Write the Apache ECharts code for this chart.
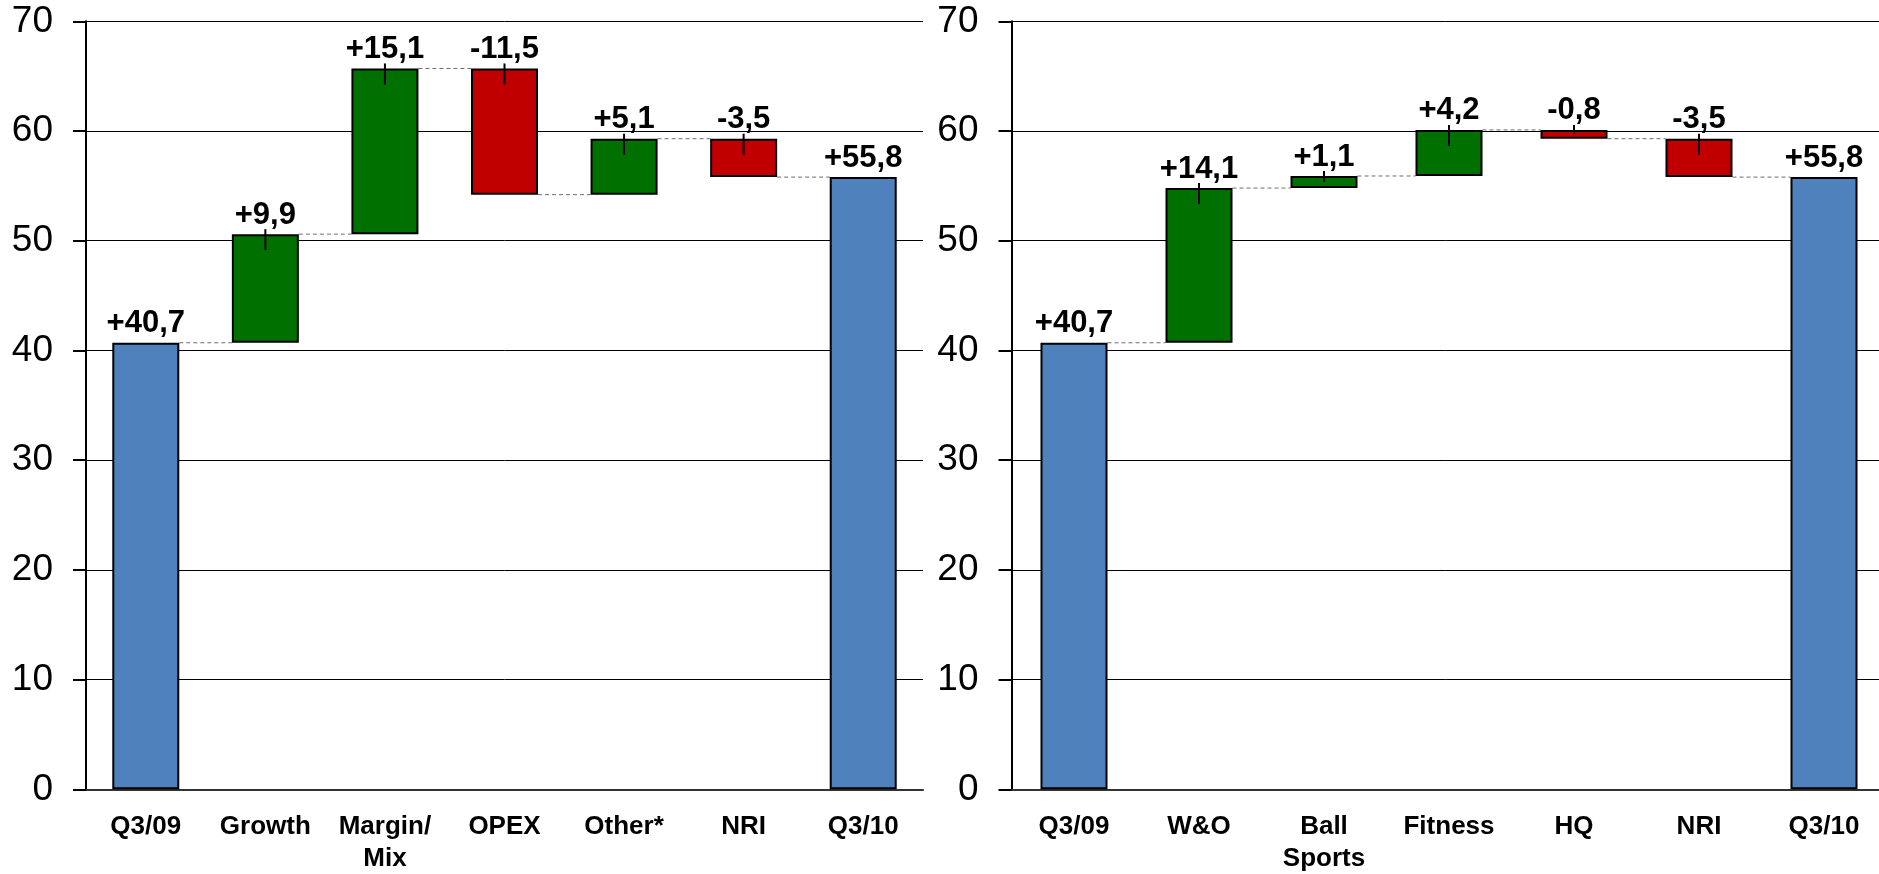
<!DOCTYPE html>
<html>
<head>
<meta charset="utf-8">
<title>EBIT bridge Q3/09 – Q3/10</title>
<script src="https://cdn.jsdelivr.net/npm/echarts@6/dist/echarts.min.js"></script>
<style>
  html, body { margin: 0; padding: 0; background: #ffffff; }
  #chart { width: 1879px; height: 874px; }
</style>
</head>
<body>
<div id="chart"></div>
<script>
// Bridge by driver (left) and by segment (right).
// First and last entries are totals, the ones between are changes.
const leftCategories = ['Q3/09', 'Growth', 'Margin/\nMix', 'OPEX', 'Other*', 'NRI', 'Q3/10'];
const leftValues = [40.7, 9.9, 15.1, -11.5, 5.1, -3.5, 55.8];

const rightCategories = ['Q3/09', 'W&O', 'Ball\nSports', 'Fitness', 'HQ', 'NRI', 'Q3/10'];
const rightValues = [40.7, 14.1, 1.1, 4.2, -0.8, -3.5, 55.8];

const yTicks = { min: 0, max: 70, interval: 10 };

const COLOR_TOTAL = '#4F81BD';
const COLOR_UP = '#007000';
const COLOR_DOWN = '#C00000';
const BAR_WIDTH = 67;
const FONT = '"Liberation Sans", Arial, Helvetica, sans-serif';

// Turn a list of totals/changes into floating-bar pieces.
function buildBridge(values) {
  const last = values.length - 1;
  const base = [], height = [], levels = [], tops = [];
  let running = 0;
  values.forEach((v, i) => {
    let lo, hi;
    if (i === 0 || i === last) {
      lo = 0; hi = v; running = v;
    } else {
      lo = Math.min(running, running + v);
      hi = Math.max(running, running + v);
      running += v;
    }
    base.push(lo);
    height.push(hi - lo);
    levels.push(running);
    tops.push(hi);
  });
  return { base, height, levels, tops, last };
}

function fmt(v) {
  return (v > 0 ? '+' : '') + v.toFixed(1).replace('.', ',');
}

function makeSeries(values, idx) {
  const b = buildBridge(values);
  const stack = 'wf' + idx;
  const barData = values.map((v, i) => {
    const total = (i === 0 || i === b.last);
    return {
      value: b.height[i],
      itemStyle: { color: total ? COLOR_TOTAL : (v >= 0 ? COLOR_UP : COLOR_DOWN) }
    };
  });

  // dashed connectors between neighbouring bars at the running level
  const connectorData = [];
  for (let i = 0; i < b.last; i++) connectorData.push([i, b.levels[i]]);

  // short vertical markers at the top of each change bar
  const markerData = [];
  for (let i = 1; i < b.last; i++) markerData.push([i, b.tops[i], b.height[i]]);

  return [
    {
      type: 'bar', xAxisIndex: idx, yAxisIndex: idx, stack: stack,
      barWidth: BAR_WIDTH, silent: true,
      itemStyle: { color: 'transparent', borderWidth: 0 },
      data: b.base, z: 2
    },
    {
      type: 'bar', xAxisIndex: idx, yAxisIndex: idx, stack: stack,
      barWidth: BAR_WIDTH, silent: true,
      itemStyle: { borderColor: '#000000', borderWidth: 2 },
      label: {
        show: true, position: 'top', distance: 4,
        formatter: p => fmt(values[p.dataIndex]),
        fontFamily: FONT, fontWeight: 'bold', fontSize: 31, lineHeight: 30,
        color: '#000000'
      },
      data: barData, z: 3
    },
    {
      type: 'custom', xAxisIndex: idx, yAxisIndex: idx, silent: true, z: 1,
      data: connectorData,
      renderItem: (params, api) => {
        const i = api.value(0);
        const p0 = api.coord([i, api.value(1)]);
        const p1 = api.coord([i + 1, api.value(1)]);
        const half = BAR_WIDTH / 2;
        return {
          type: 'line',
          shape: { x1: p0[0] + half, y1: p0[1], x2: p1[0] - half, y2: p1[1] },
          style: { stroke: '#6e6e6e', lineWidth: 1, lineDash: [4, 3] }
        };
      }
    },
    {
      type: 'custom', xAxisIndex: idx, yAxisIndex: idx, silent: true, z: 4,
      data: markerData,
      renderItem: (params, api) => {
        const i = api.value(0);
        const top = api.coord([i, api.value(1)]);
        const bottom = api.coord([i, api.value(1) - api.value(2)]);
        const h = bottom[1] - top[1];
        return {
          type: 'line',
          shape: { x1: top[0], y1: top[1] - 5, x2: top[0], y2: top[1] + Math.min(16, h / 2) },
          style: { stroke: '#000000', lineWidth: 2 }
        };
      }
    }
  ];
}

function xAxisFor(categories, gridIndex) {
  return {
    type: 'category', gridIndex: gridIndex, data: categories,
    axisLine: { show: true, lineStyle: { color: '#333333', width: 2 } },
    axisTick: { show: false },
    axisLabel: {
      interval: 0, margin: 22, color: '#000000',
      fontFamily: FONT, fontWeight: 'bold', fontSize: 26, lineHeight: 32
    },
    splitLine: { show: false }
  };
}

function yAxisFor(gridIndex) {
  return {
    type: 'value', gridIndex: gridIndex,
    min: yTicks.min, max: yTicks.max, interval: yTicks.interval,
    axisLine: { show: true, lineStyle: { color: '#000000', width: 2 } },
    axisTick: { show: true, inside: false, length: 13, lineStyle: { color: '#000000', width: 2 } },
    axisLabel: { margin: 33, color: '#000000', fontFamily: FONT, fontSize: 37 },
    splitLine: { show: true, lineStyle: { color: '#000000', width: 1 } }
  };
}

const chart = echarts.init(document.getElementById('chart'), null, { renderer: 'canvas' });
chart.setOption({
  animation: false,
  backgroundColor: '#ffffff',
  grid: [
    { left: 86, top: 21.3, width: 837, height: 768, outerBoundsMode: 'none' },
    { left: 1011.5, top: 21.3, width: 875, height: 768, outerBoundsMode: 'none' }
  ],
  xAxis: [xAxisFor(leftCategories, 0), xAxisFor(rightCategories, 1)],
  yAxis: [yAxisFor(0), yAxisFor(1)],
  series: [].concat(makeSeries(leftValues, 0), makeSeries(rightValues, 1))
});
</script>
</body>
</html>
